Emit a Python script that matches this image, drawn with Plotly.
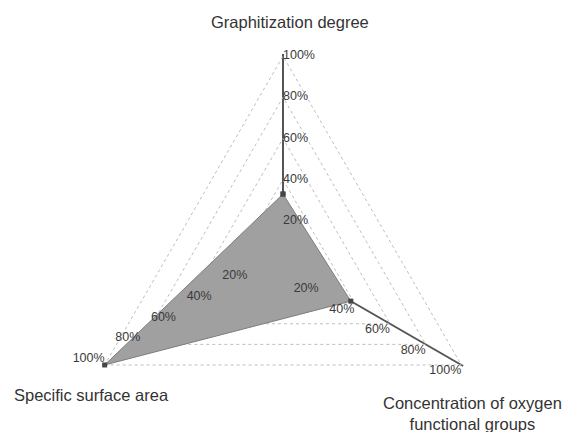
import plotly.graph_objects as go

categories = ["Graphitization degree", "Concentration of oxygen functional groups", "Specific surface area"]
values = [33, 38, 100]
tick_values = [20, 40, 60, 80, 100]
tick_labels = ["20%", "40%", "60%", "80%", "100%"]
tick_positions = ["middle right", "bottom left", "top left"]

fig = go.Figure()

fig.add_trace(go.Scatterpolar(
    r=values + values[:1],
    theta=categories + categories[:1],
    mode="lines+markers",
    fill="toself",
    fillcolor="rgb(160,160,160)",
    line=dict(color="rgb(125,125,125)", width=1),
    marker=dict(color="rgb(70,70,70)", size=5, symbol="square"),
    hoverinfo="skip",
    showlegend=False,
))

for cat, pos in zip(categories, tick_positions):
    fig.add_trace(go.Scatterpolar(
        r=tick_values,
        theta=[cat] * len(tick_values),
        mode="text",
        text=tick_labels,
        textposition=pos,
        textfont=dict(family="Liberation Sans, Arial", size=12.5, color="#3a3a3a"),
        cliponaxis=False,
        hoverinfo="skip",
        showlegend=False,
    ))

fig.update_layout(
    width=563,
    height=470,
    margin=dict(l=74, r=71, t=54, b=0),
    paper_bgcolor="white",
    plot_bgcolor="white",
    showlegend=False,
    polar=dict(
        bgcolor="white",
        gridshape="linear",
        domain=dict(x=[0, 1], y=[0, 1]),
        radialaxis=dict(
            range=[0, 101],
            tickvals=tick_values,
            showticklabels=False,
            ticks="",
            showline=False,
            gridcolor="rgb(190,190,190)",
            griddash="dot",
            gridwidth=1,
        ),
        angularaxis=dict(
            rotation=90,
            direction="clockwise",
            showticklabels=False,
            ticks="",
            showline=False,
            gridcolor="rgb(85,85,85)",
            gridwidth=1.5,
        ),
    ),
    annotations=[
        dict(text="Graphitization degree", xref="paper", yref="paper",
             x=(290 - 74) / 418, y=(470 - 22) / 416, showarrow=False,
             xanchor="center", yanchor="middle",
             font=dict(family="Liberation Sans, Arial", size=16.5, color="#333333")),
        dict(text="Specific surface area", xref="paper", yref="paper",
             x=(91 - 74) / 418, y=(470 - 395) / 416, showarrow=False,
             xanchor="center", yanchor="middle",
             font=dict(family="Liberation Sans, Arial", size=16.5, color="#333333")),
        dict(text="Concentration of oxygen<br>functional groups", xref="paper", yref="paper",
             x=(472 - 74) / 418, y=(470 - 413) / 416, showarrow=False,
             xanchor="center", yanchor="middle",
             font=dict(family="Liberation Sans, Arial", size=16.5, color="#333333")),
    ],
)

fig.write_html(
    "out.html",
    config={"displayModeBar": False},
    post_script="document.body.style.margin='0';document.body.style.overflow='hidden';document.documentElement.style.overflow='hidden';",
)
